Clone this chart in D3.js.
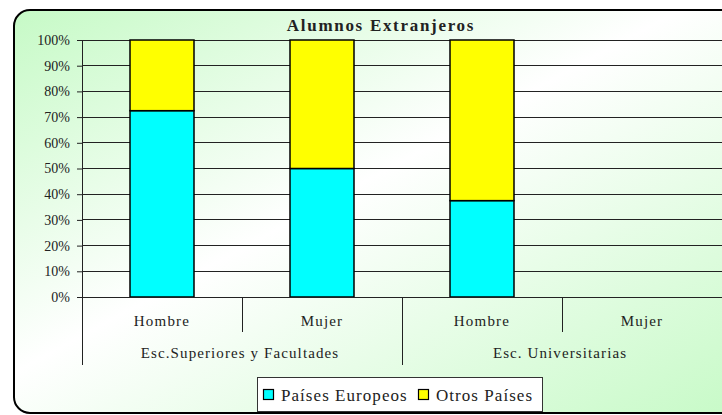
<!DOCTYPE html>
<html>
<head>
<meta charset="utf-8">
<script src="https://cdn.jsdelivr.net/npm/d3@7"></script>
<style>
  body { margin: 0; background: #fff; }
  svg text { font-family: 'Liberation Serif', serif; fill: #222; }
</style>
</head>
<body>
<div id="chart"></div>
<script>
const width = 722;
const height = 415;

// datos
const grupos = ["Esc.Superiores y Facultades", "Esc. Universitarias"];
const subcats = ["Hombre", "Mujer", "Hombre", "Mujer"];
const grupoDe = [0, 0, 1, 1];
const europeos = [72.5, 50, 37.5, 0];
const otros = [27.5, 50, 62.5, 0];
const series = ["Países Europeos", "Otros Países"];
const colores = ["#00ffff", "#ffff00"];
const yTicks = [0, 10, 20, 30, 40, 50, 60, 70, 80, 90, 100];

const fuente = "'Liberation Serif', serif";

const svg = d3.select("#chart").append("svg")
  .attr("width", width)
  .attr("height", height);

// fondo degradado
const defs = svg.append("defs");
const grad = defs.append("linearGradient")
  .attr("id", "fondo")
  .attr("x1", "0%").attr("y1", "0%")
  .attr("x2", "100%").attr("y2", "100%");
grad.append("stop").attr("offset", "0%").attr("stop-color", "#c6fac6");
grad.append("stop").attr("offset", "45%").attr("stop-color", "#ffffff");
grad.append("stop").attr("offset", "100%").attr("stop-color", "#c6fac6");

svg.append("rect")
  .attr("x", 14).attr("y", 10)
  .attr("width", 740).attr("height", 403)
  .attr("rx", 16).attr("ry", 16)
  .attr("fill", "url(#fondo)")
  .attr("stroke", "#000")
  .attr("stroke-width", 2);

const pLeft = 82, pRight = 722, pTop = 40, pBottom = 297;

const x = d3.scaleBand()
  .domain(d3.range(subcats.length))
  .range([pLeft, pRight])
  .paddingInner(0.6)
  .paddingOuter(0.3);
const step = x.step();

const y = d3.scaleLinear().domain([0, 100]).range([pBottom, pTop]);

// rejilla + eje y
const yAxis = d3.axisLeft(y)
  .tickValues(yTicks)
  .tickFormat(d => d + "%")
  .tickSize(5)
  .tickPadding(7);

const gy = svg.append("g")
  .attr("transform", `translate(${pLeft},0)`)
  .call(yAxis)
  .attr("font-family", fuente)
  .attr("font-size", 14);
gy.select(".domain").remove();
gy.selectAll(".tick line").attr("stroke", "#222");
gy.selectAll(".tick text").attr("fill", "#222");

svg.append("g").selectAll("line")
  .data(yTicks)
  .join("line")
  .attr("x1", pLeft).attr("x2", pRight)
  .attr("y1", d => y(d)).attr("y2", d => y(d))
  .attr("stroke", "#222")
  .attr("stroke-width", 1)
  .attr("shape-rendering", "crispEdges");

// barras apiladas
const filas = subcats.map((s, i) => ({ i, eu: europeos[i], ot: otros[i] }));
const stack = d3.stack().keys(["eu", "ot"])(filas);

svg.append("g").selectAll("g")
  .data(stack)
  .join("g")
  .attr("fill", (d, k) => colores[k])
  .selectAll("rect")
  .data(d => d.filter(p => p[1] - p[0] > 0))
  .join("rect")
  .attr("x", p => x(p.data.i))
  .attr("width", x.bandwidth())
  .attr("y", p => y(p[1]))
  .attr("height", p => y(p[0]) - y(p[1]))
  .attr("stroke", "#000")
  .attr("stroke-width", 1.5);

// eje x de dos niveles
const ax = svg.append("g").attr("stroke", "#222").attr("shape-rendering", "crispEdges");
ax.append("line").attr("x1", pLeft).attr("x2", pRight).attr("y1", pBottom).attr("y2", pBottom);
ax.append("line").attr("x1", pLeft).attr("x2", pLeft).attr("y1", pTop).attr("y2", pBottom);

const bordes = d3.range(subcats.length + 1).map(i => pLeft + i * step);
ax.selectAll(".sep")
  .data(bordes)
  .join("line")
  .attr("x1", d => d).attr("x2", d => d)
  .attr("y1", pBottom)
  .attr("y2", (d, i) => i % 2 === 0 ? 365 : 332);

svg.append("g").selectAll("text")
  .data(subcats)
  .join("text")
  .attr("x", (d, i) => pLeft + (i + 0.5) * step)
  .attr("y", 326)
  .attr("text-anchor", "middle")
  .attr("font-family", fuente)
  .attr("font-size", 15)
  .attr("letter-spacing", 1.2)
  .text(d => d);

svg.append("g").selectAll("text")
  .data(grupos)
  .join("text")
  .attr("x", (d, g) => {
    const idx = grupoDe.map((v, i) => v === g ? i : -1).filter(i => i >= 0);
    return pLeft + (d3.min(idx) + d3.max(idx) + 1) / 2 * step - 2;
  })
  .attr("y", 358)
  .attr("text-anchor", "middle")
  .attr("font-family", fuente)
  .attr("font-size", 15)
  .attr("letter-spacing", 1.1)
  .text(d => d);

// título
svg.append("text")
  .attr("x", 381).attr("y", 31)
  .attr("text-anchor", "middle")
  .attr("font-family", fuente)
  .attr("font-size", 17)
  .attr("font-weight", "bold")
  .attr("letter-spacing", 1.7)
  .text("Alumnos Extranjeros");

// leyenda
const lg = svg.append("g");
lg.append("rect")
  .attr("x", 257.5).attr("y", 377.5)
  .attr("width", 285).attr("height", 34)
  .attr("fill", "#fff")
  .attr("stroke", "#333");
const itemX = [263, 418];
series.forEach((s, k) => {
  lg.append("rect")
    .attr("x", itemX[k] + 0.5).attr("y", 389.5)
    .attr("width", 10).attr("height", 10)
    .attr("fill", colores[k])
    .attr("stroke", "#000")
    .attr("stroke-width", 1.2);
  lg.append("text")
    .attr("x", itemX[k] + 18).attr("y", 401)
    .attr("font-family", fuente)
    .attr("font-size", 17)
    .attr("letter-spacing", 1.05)
    .text(s);
});
</script>
</body>
</html>
